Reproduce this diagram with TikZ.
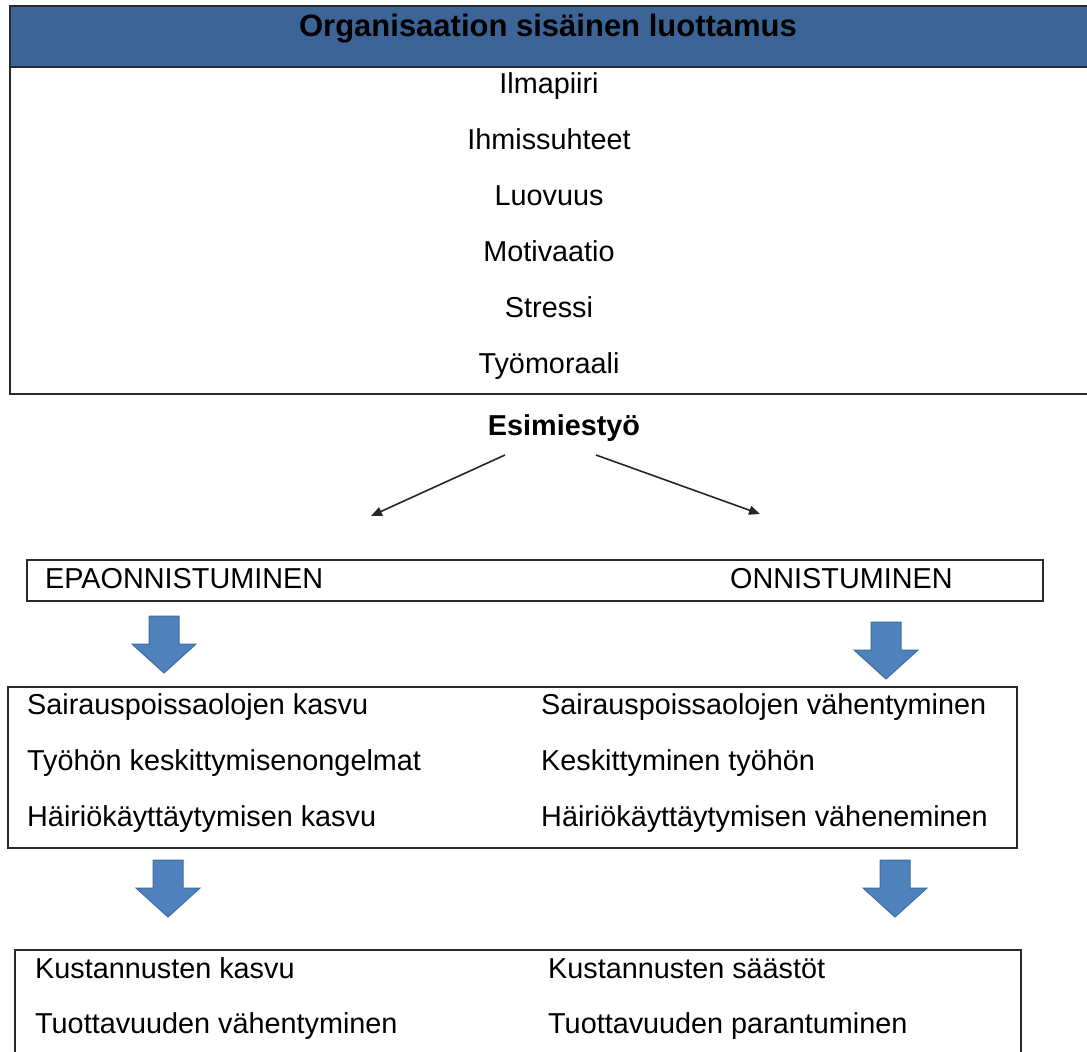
\documentclass[tikz,border=0pt]{standalone}
\usepackage{fontspec}
\setmainfont{Liberation Sans}
\usetikzlibrary{arrows.meta}
\definecolor{headblue}{HTML}{3C6496}
\definecolor{arrblue}{HTML}{4F81BD}
\definecolor{arredge}{HTML}{3E6E9E}
\definecolor{boxline}{HTML}{2A2A2A}
\tikzset{
  frame/.style={draw=boxline, line width=2pt},
  txt/.style={inner sep=0pt, anchor=base west, font=\fontsize{28.8}{34}\selectfont},
  ctxt/.style={inner sep=0pt, anchor=base, font=\fontsize{28.8}{34}\selectfont},
  thin arrow/.style={draw=black!85, line width=1.6pt, -{Triangle[length=11pt,width=9pt]}},
  blockarr/.pic={
    \path[fill=arrblue, draw=arredge, line width=1pt]
      (-15,0) -- (15,0) -- (15,28) -- (32,28) -- (0,57) -- (-32,28) -- (-15,28) -- cycle;
  }
}
\begin{document}
\begin{tikzpicture}[x=1pt,y=-1pt]
\useasboundingbox (0,0) rectangle (1087,1052);
\fill[white] (0,0) rectangle (1087,1052);
% top box
\fill[headblue] (10,6) rectangle (1095,67);
\draw[frame] (10,6) rectangle (1095,394);
\draw[frame] (10,67) -- (1095,67);
\node[ctxt, font=\bfseries\fontsize{31}{36}\selectfont] (head) at (548,36) {Organisaation sisäinen luottamus};
\node[ctxt] (t1) at (549,93) {Ilmapiiri};
\node[ctxt] (t2) at (549,149) {Ihmissuhteet};
\node[ctxt] (t3) at (549,205) {Luovuus};
\node[ctxt] (t4) at (549,261) {Motivaatio};
\node[ctxt] (t5) at (549,317) {Stressi};
\node[ctxt] (t6) at (549,373) {Työmoraali};
% Esimiestyo
\node[ctxt, font=\bfseries\fontsize{28.8}{34}\selectfont] (esi) at (564,435) {Esimiestyö};
\coordinate (la) at (505,455);
\coordinate (lb) at (371,516);
\coordinate (ra) at (596,455);
\coordinate (rb) at (760,514);
\draw[thin arrow] (la) -- (lb);
\draw[thin arrow] (ra) -- (rb);
% outcome box
\draw[frame] (27,560) rectangle (1043,601);
\node[txt] (epa) at (45,588) {EPAONNISTUMINEN};
\node[txt] (onn) at (730,588) {ONNISTUMINEN};
% block arrows 1
\pic at (164,616) {blockarr};
\pic at (886,622) {blockarr};
% box 2
\draw[frame] (8,687) rectangle (1017,848);
\node[txt] (a1) at (27,714) {Sairauspoissaolojen kasvu};
\node[txt] (a2) at (27,770) {Työhön keskittymisenongelmat};
\node[txt] (a3) at (27,826) {Häiriökäyttäytymisen kasvu};
\node[txt] (b1) at (541,714) {Sairauspoissaolojen vähentyminen};
\node[txt] (b2) at (541,770) {Keskittyminen työhön};
\node[txt] (b3) at (541,826) {Häiriökäyttäytymisen väheneminen};
% block arrows 2
\pic at (168,860) {blockarr};
\pic at (895,860) {blockarr};
% box 3
\draw[frame] (15,950) rectangle (1021,1070);
\node[txt] (c1) at (35,978) {Kustannusten kasvu};
\node[txt] (c2) at (35,1033) {Tuottavuuden vähentyminen};
\node[txt] (d1) at (548,978) {Kustannusten säästöt};
\node[txt] (d2) at (548,1033) {Tuottavuuden parantuminen};
\end{tikzpicture}
\end{document}
